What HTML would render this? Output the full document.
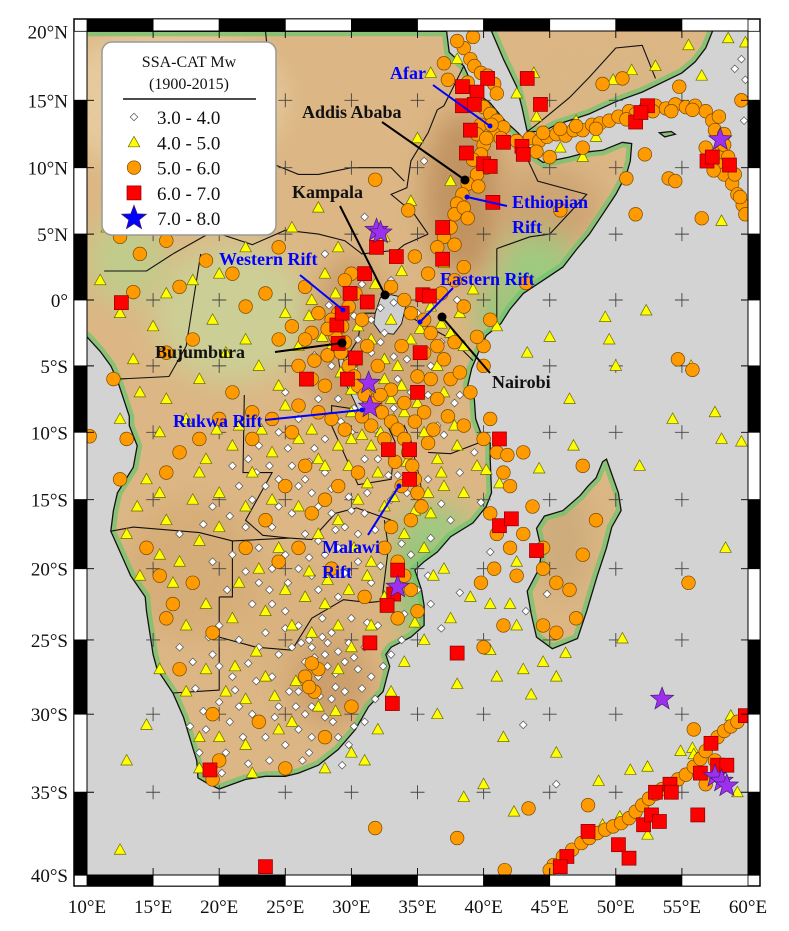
<!DOCTYPE html>
<html><head><meta charset="utf-8"><style>
html,body{margin:0;padding:0;background:#fff;}
svg{display:block;font-family:"Liberation Serif",serif;}
</style></head><body>
<svg id="map" width="789" height="931" viewBox="0 0 789 931" xmlns="http://www.w3.org/2000/svg">
<defs>
<clipPath id="mapclip"><rect x="87" y="31" width="661" height="844"/></clipPath>
<clipPath id="landclip"><path id="landclippath" d=""/></clipPath>
<filter id="blur" x="-50%" y="-50%" width="200%" height="200%"><feGaussianBlur stdDeviation="14"/></filter>
</defs>
<rect x="0" y="0" width="789" height="931" fill="#fff"/>
<g id="mapbody" clip-path="url(#mapclip)">
<rect x="87" y="31" width="661" height="844" fill="#d3d3d3"/>
<g id="landlayer"></g>
<g id="gridlayer"></g>
<g id="quakes"></g>
<g id="annot"></g>
</g>
<g id="frame"></g>
<g id="axislabels"></g>
<g id="legend">
<rect x="102" y="42" width="174" height="193" rx="10" fill="#fff" stroke="#999" stroke-width="1.5"/>
<text x="189" y="67" font-size="16" text-anchor="middle" fill="#111">SSA-CAT Mw</text>
<text x="189" y="89" font-size="16" text-anchor="middle" fill="#111">(1900-2015)</text>
<line x1="123" y1="99" x2="256" y2="99" stroke="#111" stroke-width="1.5"/>
<g id="legendrows"></g>
</g>
</svg>
<script>
// ---- data ----
var magClasses = ["3.0 - 4.0","4.0 - 5.0","5.0 - 6.0","6.0 - 7.0","7.0 - 8.0"];
var lonTicks = [10,15,20,25,30,35,40,45,50,55,60];
var latTicks = [20,15,10,5,0,-5,-10,-15,-20,-25,-30,-35,-40];
var lonTickLabels = ["10°E","15°E","20°E","25°E","30°E","35°E","40°E","45°E","50°E","55°E","60°E"];
var latTickLabels = ["20°N","15°N","10°N","5°N","0°","5°S","10°S","15°S","20°S","25°S","30°S","35°S","40°S"];

// Mw 7-8 (lon,lat pairs)
var quakesM7 = [31.9,5.3, 32.2,5.1, 31.3,-6.3, 31.4,-8.1, 33.5,-21.3, 53.5,-29.0, 57.9,12.1, 57.5,-34.0, 58.0,-34.3, 58.4,-34.6];
// Mw 6-7
var quakesM6 = [38.4,16.0, 40.3,16.6, 43.3,16.6, 39.5,15.6, 38.4,14.6, 39.3,14.7, 44.3,14.7, 39.0,12.8, 38.7,11.1, 40.0,10.3, 40.5,10.1, 41.5,11.9, 42.9,11.6, 43.0,11.0, 40.7,7.4,
 36.9,5.5, 36.9,3.1, 31.9,4.0, 33.4,3.3, 31.0,2.0, 29.9,0.5, 31.2,-0.15, 28.9,-1.9, 29.3,-1.0, 29.7,-6.0, 26.6,-6.0, 35.0,-7.0, 35.2,-4.0, 35.4,0.4, 35.9,0.3, 29.0,-3.3, 30.3,-4.4, 12.6,-0.2,
 32.8,-11.3, 34.4,-11.3, 34.4,-13.5, 33.5,-20.1, 33.2,-21.8, 32.7,-22.6, 31.4,-25.2, 33.1,-29.3, 38.0,-25.9, 19.3,-33.6, 41.2,-10.5, 41.2,-16.9, 42.1,-16.4, 44.0,-18.7,
 52.4,14.6, 51.5,13.4, 51.9,14.1, 56.9,10.5, 57.3,10.8, 58.6,10.2, 23.5,-39.5,
 46.3,-38.9, 45.8,-39.5, 47.9,-37.4, 50.2,-38.2, 51.0,-39.0, 52.1,-37.0, 52.7,-36.4, 53.3,-36.8, 53.0,-35.0, 54.1,-34.5, 54.2,-35.0, 56.2,-36.4, 56.4,-33.8, 57.2,-31.9, 57.7,-33.3, 58.4,-33.3, 59.8,-30.1];
// Mw 5-6
var quakesM5 = [38.5,18.8, 39,18, 39.3,17.5, 39.8,17, 40.3,16.8, 40.8,16.2, 41,15.5, 39.5,15.2, 40,14.5, 40.5,14, 41,13.5, 41.5,13, 40.8,12.5, 41.3,12.2, 39.8,13.2, 39.5,12.5, 40,11.7, 39.8,11, 40.2,10, 39.5,9.5, 38.8,8.8, 38.4,8, 38,7.3, 37.8,6.5, 37.5,5.5, 37,4.8, 36.5,4, 38.5,7, 37.3,16.5, 37,17.7, 38,19.3, 39.2,19.6, 38.8,16.3,
 42.5,12, 43.5,12.2, 44.2,12, 44.8,12.3, 45.5,12.5, 46.2,12.4, 46.8,12.8, 47.5,12.8, 48.2,13.2, 48.8,13.3, 49.5,13.5, 50.2,13.8, 51,14.2, 51.5,14, 52.3,14.5, 53,14.6, 53.8,14.4, 54.5,14.7, 55.3,14.5, 56,14.6, 56.8,14.2, 57.3,13.5, 57.5,12.8, 56.8,11.5, 57.2,10.8, 57.7,10.3, 58.2,9.5, 58.8,8.8, 59.2,8, 59.6,7.2, 59.8,6.5, 47.5,11.5, 44,11.2, 45,10.8, 49,16.2, 52.2,11, 54,9.2, 54.5,9, 56.5,6.2, 59.5,15, 54.8,16, 50.5,16.6, 58.2,12.5, 58,11.2,
 44.5,12.6, 45.8,12.9, 47,13.1, 48.5,12.9, 50.8,13.6, 52.8,14.2, 54.2,14.2, 55.8,14.3, 57.8,13.8, 58.2,11.7, 57.4,9.8, 58.5,10.8, 59,9.5, 59.4,7.8, 40.6,13.2, 40.2,12.2, 39.2,10.6, 39.6,8.6, 38.8,6.2, 37.8,4.2,
 31.8,9.1, 34.3,6.8, 30,2, 29.5,1.5, 30.3,0.5, 29.8,-0.5, 29,-1, 28.5,-1.5, 29.3,-2, 28.8,-2.8, 29.5,-3.2, 29.2,-4, 29.8,-5, 30.2,-5.8, 30.5,-6.5, 31,-7.2, 31.8,-7.8, 32.3,-8.5, 33,-9.2, 33.5,-9.8, 34,-10.5, 34.3,-11.5, 34.6,-12.5, 34.8,-13.5, 35,-14.5, 35.3,-15.5, 34.5,-16.5, 33.8,-14, 32.5,-10.5, 31.5,-9.5, 27.5,-1, 27,-2.5, 26.5,-3, 25.5,-2, 24.5,-3, 26,-5, 27,-6, 28,-6.5, 27.5,-8.5, 28.5,-9, 26,-8, 25.5,-10, 24,-9, 22.5,-8.5, 21,-7, 20,-9, 18.5,-10.5, 17,-11.5, 16,-13, 33,1, 34,0, 34.5,-1, 35.5,-1.5, 36,-2.5, 36.5,-3.5, 35.5,-4, 37,-4.5, 36,-6, 37.5,-6, 38.2,-5.5, 36.5,-7.5, 35.5,-8.5, 37.3,-8.8, 38.5,-9.5, 39,-7, 40,-3.5, 39.5,-2.8, 40.5,-1.5, 40,-5, 36.8,0.5, 37.8,1.5, 38.5,2.5, 35.8,2, 34.8,3.3, 38.5,-0.5,
 28.2,-2.2, 30.8,-1.5, 31.2,-3.5, 32,-5, 33,-6.8, 34,-7.8, 34.8,-9.2, 35.8,-10.8, 33.3,-12.2, 32.2,-7.2, 30.8,-8.8, 29.5,-9.8, 28.2,-4.2, 27.2,-4.6, 33.8,-3.5, 35,-5.8, 36.2,-9.8, 37.8,-3.2,
 33,-17, 32.5,-18.5, 33.5,-19.5, 34,-20.5, 34.5,-21.5, 35,-23, 33.5,-23.5, 31,-22, 28.5,-20, 26,-18.5, 27,-16, 28,-15, 29,-14, 30.5,-13, 26.5,-12.5, 25,-14, 23.5,-16.5, 22,-18.5, 18,-21, 16.5,-22.5, 15.5,-20.5, 14.5,-18.5, 19.5,-24.5, 26.5,-27.5, 27.5,-27, 27,-26.6, 27.2,-28.5, 26.8,-28.2, 23,-30.5, 19.5,-30, 17,-27, 20,-33, 19.5,-34.2, 25,-33.5, 28,-31.5, 30,-29.5, 16,-23.5, 12.5,-13.5, 13,-10.5, 10.2,-10.3, 22.5,-10.5, 24.5,-19.5,
 12,-6, 16,-4, 18,-3, 17,1, 19,3, 21,2, 22,-0.5, 23.5,0.5, 18.5,6.5, 21.5,5.5, 24.5,4, 26.5,1, 14,3.5, 12.5,4.8, 15,6, 16,4.5, 13.5,0.6,
 41,-11.5, 41.5,-13, 42,-14, 40.5,-16, 41,-17.5, 42,-18.5, 43,-17.5, 44.5,-18.5, 40.8,-20, 39.8,-21, 44.5,-20, 45.5,-21, 46.5,-21.5, 47.5,-19, 48.5,-16.5, 47,-23.5, 44.5,-24, 45.5,-24.5, 41.5,-24, 40,-25.5, 55.5,-21, 42.5,-20.5, 43.7,-15.5, 47.5,-12.5, 43,-11.5, 40,-10.5, 40.5,-9,
 45.8,6.8, 50.8,9.2, 51.5,6.5, 55.8,-5.3, 54.7,-4.5, 43.2,1.3, 41.8,-11.7,
 45.3,-39.4, 46,-38.9, 46.7,-38.5, 47.4,-38.1, 48,-37.8, 48.6,-37.5, 49.2,-37.3, 49.8,-37.1, 50.4,-36.9, 51,-36.6, 51.5,-36.2, 52,-35.8, 52.5,-35.4, 53,-35.1, 53.5,-34.8, 54.1,-34.5, 54.7,-34.2, 55.3,-33.9, 55.9,-33.4, 56.4,-32.9, 56.8,-32.4, 57.2,-31.9, 57.7,-31.5, 58.2,-31.1, 58.7,-30.8, 59.2,-30.5, 45.0,-39.7, 41.6,-39.7, 47.9,-35.8, 43.4,-36.0, 55.9,-31.0, 57.5,-33.0, 56.8,-34.5, 31.8,-37.2, 38.0,-37.8];
// Mw 4-5
var quakesM4 = [14,18, 20,13, 27.5,7, 35,12.2, 36,17, 38,18, 43.8,17, 47,13.5, 47.5,10.8, 49.8,16.5, 58.5,19.5, 55.5,19, 51.2,17.2, 44,13.8, 42.5,15.5, 37.5,9, 32.5,4.8, 34.5,7.5, 33,-1.5, 41,-2, 43.3,-4, 45,-2.8, 49.2,-1.3, 49.5,-3, 46.5,-7.5, 55.7,-5, 57.5,-8.5, 59.5,-10.7, 58,-10.5, 54.3,-9, 51.8,-12.5, 50,-5, 52.3,-0.8, 58,6, 59.8,19.2, 56.5,16.8, 53,17.5, 45.8,11.5, 48.5,12.3,
 11,1.5, 12.5,-1, 13.5,-4.5, 15,-2, 16,0.5, 18,1.5, 19.5,-1.5, 20.5,-4, 22,-3, 23,-5, 24.5,-6.5, 25,-1, 26,-3.5, 27,0, 28,2, 29,4, 25.5,5.5, 22,4, 20,2, 17.5,6, 13,8.5, 11.5,5.5, 18.5,-6, 16,-7.5, 14,-7, 12.5,-9, 15.5,-10, 17.5,-9, 19,-12, 21,-11, 22.5,-13, 24,-11.5, 26,-10.5, 27.5,-12, 29,-11, 30,-8.5, 31.5,-11, 32,-13, 30.5,-15, 29,-16.5, 27.5,-17.5, 26,-15.5, 24,-15, 22,-15.5, 20,-14.5, 18,-15, 16,-16.5, 14.5,-13.5, 13,-17.5, 14,-20.5, 15.5,-19, 17,-19.5, 18.5,-18, 20,-17, 21.5,-21, 23,-20, 24.5,-18.5, 25,-21.5, 26.5,-22, 28,-22.5, 29,-24, 27,-24.5, 25.5,-24, 23.5,-23, 21,-23.5, 19,-22.5, 17.5,-24, 15.5,-27, 17.5,-28.5, 19,-27, 20.5,-28.5, 22,-29, 23.5,-27.5, 24.5,-31, 22,-32, 20,-31.5, 18.5,-31.5, 18.5,-33.5, 22.5,-33.8, 25.5,-30.5, 27.5,-29.5, 29,-27, 30,-25.5, 31.5,-24, 32.5,-22, 31.5,-19.5, 32.5,-15.5, 34,-17.5, 35.5,-18.5, 36,-16, 37,-14, 36.5,-12, 38,-11, 39.5,-12.5, 38.5,-14.5, 37,-20, 35.5,-25, 34,-26.5, 33,-28.5, 32,-31, 30,-32.5, 28,-33.5, 31,-33, 14.5,-30.7, 13,-33, 12.5,-38.5,
 28.5,-3.5, 30.5,-2, 31.5,-3, 32.5,-4.5, 33.5,-5, 34.5,-3, 36,-0.5, 37.5,-2.5, 38.5,-3.5, 33,-7.5, 34,-8.5, 35.5,-10, 30,-10.5, 28,-12.5, 25,-8, 21.5,-9.5, 18.5,-13, 15.5,-14.5,
 29.2,-5.5, 30,-6.8, 31.2,-6.8, 32.5,-6, 33.8,-6.5, 35,-7.8, 36.5,-5, 37,-7, 37.8,-9.5, 33.2,-9, 32.2,-10, 30.8,-10.2, 29.8,-12.5, 31.2,-13.8, 33.2,-14.8, 34.8,-15.8, 35.8,-14.5, 36.8,-13, 34.2,-12.2, 27.8,-2.8, 26.8,-1.2, 28.8,0.5, 31.8,1.2, 33.8,2.2, 35.2,-2.2, 36.8,-1.8, 38.2,-1, 39.2,0.8, 37,2.8, 30.2,-18.5, 31.2,-20.5, 29.8,-21.5, 28.2,-20.8, 26.8,-20.2, 25.8,-27.8, 28.8,-29.8, 24.2,-28.8, 22.8,-25.8, 21.2,-26.8, 16.5,-21, 13.8,-15.5, 19.8,-9.8, 23.2,-9.8, 27,-9.8, 36.2,-20.5, 34.8,-23.8, 41.2,-13.8, 40.2,-12.8,
 38.5,-35.3, 40,-34.5, 36.5,-30, 38,-28, 41,-27.5, 43,-27, 44.5,-26.5, 45.5,-27.5, 46.2,-25.9, 50.5,-24.9, 40.5,-25.7, 43.6,-28.7, 48.7,-34.3, 51.1,-33.6, 52.4,-33.4, 54.9,-32.4, 55.8,-32.2, 55.9,-32.6, 58.7,-30.1, 59.2,-35.0, 42.3,-36.2, 50.3,-36.5, 52.4,-37.6, 49.0,-37.0, 42,-22.5, 42.5,-24, 42.5,-19.5, 44.2,-12.7, 46.8,-11, 39,-22, 40.5,-22.5, 37.5,-23.5, 45.5,-32.5, 41.5,-31.5, 58.3,-18.5];
// Mw 3-4
var quakesM3 = [21.5,-14, 22.5,-15, 23.5,-14, 24.5,-13.5, 25.5,-12.5, 26.5,-13.5, 27,-14.5, 28,-13, 28.5,-16, 29.5,-17, 30.5,-17.5, 31,-16, 29,-18.5, 28,-19, 27,-20.5, 26,-20, 25,-19, 24,-20, 23,-21, 24,-22.5, 25,-23, 26,-24, 27,-25.5, 28,-26, 28.5,-24.5, 29.5,-26.5, 30.5,-27, 27.5,-27.5, 26.5,-26.5, 25.5,-25.5, 24.5,-26, 26,-28.5, 27,-29.5, 28.5,-29, 29.5,-28.5, 30,-29.5, 31,-30.5, 29,-31.5, 27,-31.5, 25,-32, 26,-31, 23.5,-31.5, 22.5,-30, 21.5,-29.5, 20,-29.2, 19,-31, 18.5,-32.5, 20.5,-32.5, 21.5,-25, 20,-24, 19.5,-19.5, 21,-19, 22,-17, 23,-18.5, 24,-17, 25.5,-16, 23,-11, 24.5,-10, 26,-9, 27.5,-7.5, 29,-7.5, 28,-10.5, 30,-10, 31,-12, 32,-12, 33,-15, 34.5,-19, 35,-21.5, 36,-22.5, 32,-24, 31,-25.5, 29,-22, 30,-23.5, 33,-26, 26.5,-17.5, 27.5,-18, 22.5,-22.5, 17,-17.5, 17,-25.5, 18,-26.5, 19.5,-26, 23,-25.5, 24,-27.5, 26,-8, 25,-7, 28.5,-5, 30.5,-3, 31.5,-4, 31.5,-1.5, 32.5,-2.5, 35,-1, 36,-5, 34.5,-7, 33.5,-6, 38,0, 31,6.3, 35.5,10.5, 33,1.5, 28,3.5, 43.0,-30.7, 45.5,-34.5, 59.5,18, 59.8,16.5, 59,17.3, 59.7,13.5,
 28.8,-27.3, 28.2,-25.2, 27.8,-24.8, 26.8,-25, 29.8,-25.2, 30.8,-28.3, 31.5,-27.5, 28.6,-30.5, 26.5,-30, 25.3,-28.5, 22.8,-27.8, 21,-27.5, 20.6,-21.5, 22,-20.2, 26.8,-19.2, 29.5,-20.3, 31.5,-21, 30.5,-19.5, 31.8,-17.2, 30,-15.8, 28.5,-14.2, 26,-14, 24.5,-15.5, 22.8,-13, 21,-12.5, 19.5,-15.5, 27.2,-11.2, 29.2,-9.2, 33,-11.8, 33.5,-13.2, 35.8,-13.5, 36.8,-15.3, 37.5,-16.5, 36,-17.8, 35.8,-20.5, 34,-23.2, 33.8,-25, 32.4,-26.8, 30.2,-30.8, 28,-30.2, 24.5,-29.5, 20,-26.8, 18.2,-28.3, 17.8,-30.8, 20.8,-30.5, 21.8,-31.5, 23.8,-33, 26.3,-33, 29.3,-33.3, 33.2,-4.3, 36.8,-3.2, 37.8,-7.8, 37,-10.2, 39.3,-11.5, 38.2,-13, 39.8,-15.2, 30.2,-8.2, 31.8,-9.8, 30.2,-5.2, 27.2,-4.2, 28.3,-0.4, 30.8,1.2, 32.2,-0.6, 36.5,-9.5, 44.8,-21.8, 43.2,-23, 40.5,-18.8, 38.2,-21.7, 36.8,-24.2,
 27.2,-26.2, 28.2,-26.8, 29,-25.8, 26.2,-25.2, 25,-24.2, 27.8,-23.5, 28.8,-28.2, 27.6,-28.8, 25.8,-29.5, 24.2,-30.2, 21.2,-28.4, 22.2,-26.6, 23.5,-24.5, 25.2,-21, 23.8,-21.5, 27.5,-21.5, 28.8,-17.2, 29.8,-14.8, 27.5,-15.5, 26.8,-12.2, 25.2,-11.2, 23.8,-12.5, 22.2,-12, 20.8,-16.2, 18.8,-16.8, 31.2,-14.5, 32.8,-13.2, 34.2,-14.5, 33.8,-18.2, 32.2,-19.8, 31.2,-23.8, 30.2,-26.2, 31.8,-29, 29.8,-32, 26.8,-32.5, 22.2,-33.2, 20.2,-33.8, 18.8,-29.8, 19.2,-24.8, 33.2,-8.2, 32.2,-3.2, 34.2,-4.5, 35.8,-7.2, 38.2,-7.2, 30.2,-1.2, 33.2,-0.2];

// ---- projection (Mercator) ----
function X(lon){ return 87 + (lon-10)*13.22; }
function Y(lat){ return 300 - 754*Math.log(Math.tan(Math.PI/4 + lat*Math.PI/360)); }

var NS = "http://www.w3.org/2000/svg";
function mk(tag, attrs, parent){ var e=document.createElementNS(NS,tag); for(var k in attrs) e.setAttribute(k, attrs[k]); if(parent) parent.appendChild(e); return e; }
function pathFrom(arr){ var d=""; for(var i=0;i<arr.length;i+=2){ d += (i?"L":"M")+X(arr[i]).toFixed(1)+","+Y(arr[i+1]).toFixed(1); } return d+"Z"; }
function lineFrom(arr){ var d=""; for(var i=0;i<arr.length;i+=2){ d += (i?"L":"M")+X(arr[i]).toFixed(1)+","+Y(arr[i+1]).toFixed(1); } return d; }

// ---- land geometry ----
var africaCoast = [10,20, 37.2,20, 37.4,18.5, 38.5,17.5, 39.3,15.8, 39.8,15.3, 40.5,14.8, 41.6,13.5, 42.6,12.6, 43.3,11.9, 43,11.5, 43.6,11, 44.5,10.4, 45.5,10.6, 46.5,10.8, 48,11.2, 49,11.3, 50.5,11.9, 51.2,11.8, 51.1,10.5, 50.8,9.5, 50,8, 49,6.5, 48,5, 47,3.8, 46,2.5, 44.5,1.5, 43,0.5, 42,-0.7, 41.3,-1.8, 40.2,-2.7, 39.6,-4, 39.1,-5.2, 38.8,-6.5, 39.3,-7.5, 39.4,-9, 39.8,-10.1, 40.5,-10.8, 40.5,-12, 40.6,-14.5, 40.2,-15.5, 39.2,-16.7, 37.5,-17.7, 36.5,-18.8, 35.5,-19.5, 34.8,-20.1, 35.3,-21.5, 35.5,-22.6, 35.5,-24, 34.5,-24.8, 33,-25.5, 32.6,-26, 32.9,-26.8, 32.4,-28.5, 31.3,-29.5, 30.3,-31, 29,-32.3, 27.5,-33.3, 26,-33.8, 25,-34, 23.5,-34, 22,-34.2, 20,-34.8, 19,-34.4, 18.4,-34.1, 18.3,-33, 18,-32.2, 17.3,-30.2, 16.5,-28.6, 15.3,-27, 15,-26, 14.5,-23, 14.4,-22, 13.3,-20.5, 12.5,-18.8, 11.8,-17.3, 12,-15.8, 12.3,-14.5, 13.5,-12.6, 13.8,-11, 13.2,-9.5, 13.2,-8.8, 12.8,-7.6, 12.3,-6.1, 11.8,-5, 11,-3.9, 10,-2.8, 8,-2.8, 8,20];
var arabiaCoast = [40.6,21, 40.6,20, 41.5,18, 42.5,16, 42.9,14.5, 43.3,12.7, 44.5,12.7, 45.5,13.2, 48,14, 50,14.9, 52,15.6, 55,17, 56,17.8, 56.8,18.8, 57.4,20.2, 57.6,21, 40.6,21];
var madagascarCoast = [49.3,-12, 50.2,-14.5, 50.4,-15.8, 49.7,-17, 49.3,-18.5, 48.6,-20.5, 47.8,-23, 47.1,-24.9, 45.2,-25.6, 44,-24.8, 43.6,-23.2, 43.3,-21.6, 44.2,-20, 44.4,-18.7, 44,-17.1, 44.6,-16.2, 46,-15.8, 47.3,-14.7, 47.9,-14, 48.5,-13.4, 49,-12.2];
var socotraCoast = [53.3,12.6, 54.2,12.7, 54.5,12.5, 53.7,12.3];
var lakeVictoria = [31.8,-1, 32.2,0.2, 33,0.4, 33.9,0.2, 34.1,-0.5, 33.8,-1.8, 33.2,-2.6, 32.2,-2.5, 31.7,-1.8];
var lakeTanganyika = [29.2,-3.3, 29.5,-5, 30.3,-6.6, 30.8,-7.5, 31.1,-8.6, 30.7,-8.7, 30.1,-7.4, 29.5,-6.2, 29.1,-5, 28.9,-3.5];
var lakeMalawi = [34,-9.5, 34.5,-10.6, 34.8,-12, 35.2,-13.5, 35.3,-14.4, 34.9,-14.2, 34.4,-12.8, 34.1,-11.3, 33.9,-9.8];
var borders = [
 [23.5,20, 24,15.5, 22.5,14, 22.3,12.6, 23.5,10.5, 26,9.5, 27.5,9.5, 30,10, 33,10, 34,9],
 [36.5,14.3, 35.8,12.6, 34.5,10.5, 34.2,8.5, 33,8, 34.7,6.6, 35.8,5],
 [41,3.9, 43.5,4.8, 45,5, 47.8,8, 44.1,9, 43,11.3],
 [41,3.9, 41,-1.6],
 [35.8,5, 34,4.2, 33.5,3.8, 30.8,3.5, 29.5,4.5, 27.5,5, 25,5.3, 22.5,4.2, 19.5,5.2, 16.5,3.5],
 [16.5,3.5, 14.5,2.2, 11.3,2.2],
 [18.6,3.5, 17.5,-3.5, 16.2,-5.8, 12.3,-6],
 [30,-1.3, 31,-1, 33.9,-1, 37.6,-3, 39.2,-4.6],
 [29.6,-4.4, 30.5,-3, 30.8,-1.1],
 [21.9,-7.2, 21.8,-13, 24,-13, 22,-16.5, 23.3,-17.6, 25.3,-17.8],
 [11.8,-17.3, 13.5,-17, 18.5,-17.4, 21,-18, 25.3,-17.8],
 [20,-22, 20,-24.8, 20,-28.4, 16.5,-28.6],
 [21,-18, 21,-22, 20,-22],
 [20,-24.8, 22.8,-25.5, 25.5,-25.7, 27,-23.5, 29.4,-22.2, 31.3,-22.4],
 [25.3,-17.8, 27,-17.9, 28.8,-16, 30.4,-15.6, 33,-16.5],
 [32.5,-9, 33.3,-10.7, 33,-13.5, 30.5,-13.9, 28.5,-9.5, 28.5,-8, 30.5,-8.3],
 [35.8,-11.5, 37.5,-11.6, 40.4,-10.5],
 [31.3,-22.4, 32.3,-22.3, 32.8,-18.5, 32.5,-16.5],
 [43.3,12.7, 44,13.2, 45,14, 46.5,15.2, 48,16.7, 50,18.8, 52,19, 53,16.6],
 [38.5,17.5, 37,14.6, 36.5,14.3]
];

var landlayer = document.getElementById("landlayer");
var africaD = pathFrom(africaCoast), arabiaD = pathFrom(arabiaCoast), madD = pathFrom(madagascarCoast), socD = pathFrom(socotraCoast);
var allLand = africaD + arabiaD + madD + socD;
document.getElementById("landclippath").setAttribute("d", allLand);

var landFill = mk("path", {d: allLand, fill: "#dcb785"}, landlayer);



var shade = mk("g", {"clip-path": "url(#landclip)"}, landlayer);
var tints = [
 [16,15,9,5,"#e8cfa3"], [21,-1,6,5,"#c8d49a"], [13,3,3,3,"#b9d18d"], [38.5,8,3,6,"#b98a58"],
 [45,7,4,3,"#c9a070"], [44,2,3,3,"#8fcf7f"], [41,-1,1.5,2,"#7fcc7a"], [35,-21,1.8,4,"#7bcb78"],
 [36.5,-17,2.5,1.5,"#8ccf80"], [46,-18,2,4,"#c9a878"], [27,-24,6,5,"#d9b27e"], [18,-20,5,5,"#d4aa74"],
 [49,16.5,5,2,"#d8b685"], [30,-3,3,6,"#c59965"], [34.5,-5,3,4,"#cfa673"], [28.5,-28,3,3,"#c89a68"]
];
for (var t=0;t<tints.length;t++){
  var tb=tints[t];
  var cx=X(tb[0]), cy=Y(tb[1]);
  mk("ellipse", {cx:cx, cy:cy, rx:tb[2]*13.22, ry:tb[3]*14, fill:tb[4], opacity:0.8, filter:"url(#blur)"}, shade);
}
var fringe = mk("path", {d: allLand, fill:"none", stroke:"#6fc46f", "stroke-width":10, opacity:0.75}, shade);



var coast = mk("path", {d: allLand, fill:"none", stroke:"#111", "stroke-width":1.3}, landlayer);



for (var b=0;b<borders.length;b++){
  var bl = mk("path", {d: lineFrom(borders[b]), fill:"none", stroke:"#111", "stroke-width":1.1}, landlayer);
  
  
}
var lakes=[lakeVictoria, lakeTanganyika, lakeMalawi];
for (var l=0;l<lakes.length;l++){
  var lk = mk("path", {d: pathFrom(lakes[l]), fill:"#cfcfcf", stroke:"#111", "stroke-width":0.9}, landlayer);
  
  
}

// ---- grid crosses ----
var grid = document.getElementById("gridlayer");
for (var i=1;i<lonTicks.length-1;i++){
  for (var j=1;j<latTicks.length-1;j++){
    var gx=X(lonTicks[i]), gy=Y(latTicks[j]);
    var cr = mk("path", {d:"M"+(gx-7)+","+gy+"H"+(gx+7)+"M"+gx+","+(gy-7)+"V"+(gy+7), stroke:"#444", "stroke-width":0.9, fill:"none"}, grid);
    
    
  }
}

// ---- markers ----
var qg = document.getElementById("quakes");
function diamond(x,y,p){ return mk("path",{d:"M"+x+","+(y-3.8)+"L"+(x+3.8)+","+y+"L"+x+","+(y+3.8)+"L"+(x-3.8)+","+y+"Z", fill:"#fff", stroke:"#555", "stroke-width":0.7},p); }
function tri(x,y,p){ return mk("path",{d:"M"+x+","+(y-6)+"L"+(x+5.8)+","+(y+4.5)+"L"+(x-5.8)+","+(y+4.5)+"Z", fill:"#ffff00", stroke:"#6b6b00", "stroke-width":0.7},p); }
function circ(x,y,p){ return mk("circle",{cx:x, cy:y, r:6.8, fill:"#ff9b00", stroke:"#7a4a00", "stroke-width":0.7},p); }
function sq(x,y,p){ return mk("rect",{x:x-7, y:y-7, width:14, height:14, fill:"#ff0000", stroke:"#8a0000", "stroke-width":0.7},p); }
function star(x,y,p,col,R){ R=R||12; var r=R*0.42, d=""; for(var k=0;k<10;k++){ var a=-Math.PI/2+k*Math.PI/5, rr=(k%2?r:R); d+=(k?"L":"M")+(x+rr*Math.cos(a)).toFixed(1)+","+(y+rr*Math.sin(a)).toFixed(1);} return mk("path",{d:d+"Z", fill:col||"#9b30ef", stroke:"#4a1a70", "stroke-width":0.7},p); }

var series = [[quakesM3, diamond, "quake-mw3"], [quakesM4, tri, "quake-mw4"], [quakesM5, circ, "quake-mw5"], [quakesM6, sq, "quake-mw6"], [quakesM7, star, "quake-mw7"]];
for (var s=0;s<series.length;s++){
  var arr=series[s][0], fn=series[s][1];
  var g = mk("g", {}, qg);
  
  
  for (var q=0;q<arr.length;q+=2){
    var el = fn(X(arr[q]), Y(arr[q+1]), g);
    
    
  }
}

// ---- annotations ----
var an = document.getElementById("annot");
var annots = [
 [["Afar"], 390, 79, "#0000ff", [433,85], [490,126], "blue"],
 [["Addis Ababa"], 302, 118, "#111", [382,122], [465,180], "black"],
 [["Ethiopian","Rift"], 512, 208, "#0000ff", [507,206], [467,197], "blue"],
 [["Kampala"], 292, 198, "#111", [340,206], [385,295], "black"],
 [["Western Rift"], 219, 265, "#0000ff", [300,275], [343,310], "blue"],
 [["Eastern Rift"], 440, 285, "#0000ff", [453,288], [420,322], "blue"],
 [["Bujumbura"], 155, 358, "#111", [275,352], [342,343], "black"],
 [["Nairobi"], 492, 388, "#111", [490,373], [442,317], "black"],
 [["Rukwa Rift"], 173, 427, "#0000ff", [265,420], [362,410], "blue"],
 [["Malawi","Rift"], 322, 553, "#0000ff", [368,535], [399,486], "blue"]
];
for (var a=0;a<annots.length;a++){
  var A=annots[a];
  var ln = mk("line",{x1:A[4][0], y1:A[4][1], x2:A[5][0], y2:A[5][1], stroke: A[6]=="blue"?"#0000ff":"#000", "stroke-width":2}, an);
  
  
  var dt = mk("circle",{cx:A[5][0], cy:A[5][1], r:A[6]=="blue"?2.5:4.5, fill:A[6]=="blue"?"#0000ff":"#000"}, an);
  
  
  for (var li=0; li<A[0].length; li++){
    var tx = mk("text",{x:A[1], y:A[2]+li*25, fill:A[3], "font-size":18, "font-weight":"bold"}, an);
    tx.textContent = A[0][li];
    
    
  }
}

// ---- frame ----
var fr = document.getElementById("frame");
mk("rect",{x:74, y:19, width:686, height:867, fill:"none", stroke:"#000", "stroke-width":1.5}, fr);
for (var i=0;i<lonTicks.length-1;i++){
  var x0=X(lonTicks[i]), x1=X(lonTicks[i+1]), c=(i%2==0)?"#000":"#fff";
  var t1=mk("rect",{x:x0, y:19, width:x1-x0, height:12, fill:c, stroke:"#000", "stroke-width":0.8}, fr);
  
  
  var t2=mk("rect",{x:x0, y:875, width:x1-x0, height:11, fill:c, stroke:"#000", "stroke-width":0.8}, fr);
  
  
}
for (var j=0;j<latTicks.length-1;j++){
  var y0=Y(latTicks[j]), y1=Y(latTicks[j+1]), c2=(j%2==0)?"#fff":"#000";
  var s1=mk("rect",{x:74, y:y0, width:13, height:y1-y0, fill:c2, stroke:"#000", "stroke-width":0.8}, fr);
  
  
  var s2=mk("rect",{x:748, y:y0, width:12, height:y1-y0, fill:c2, stroke:"#000", "stroke-width":0.8}, fr);
  
  
}
mk("rect",{x:87, y:31, width:661, height:844, fill:"none", stroke:"#000", "stroke-width":1}, fr);
for (var i=1;i<lonTicks.length-1;i++){
  var tx0=X(lonTicks[i]);
  mk("path",{d:"M"+tx0+",31v7M"+tx0+",875v-7", stroke:"#000","stroke-width":0.9}, fr);
}
for (var j=1;j<latTicks.length-1;j++){
  var ty0=Y(latTicks[j]);
  mk("path",{d:"M87,"+ty0+"h7M748,"+ty0+"h-7", stroke:"#000","stroke-width":0.9}, fr);
}

// ---- axis labels ----
var ax = document.getElementById("axislabels");
for (var i=0;i<lonTicks.length;i++){
  var lt = mk("text",{x:X(lonTicks[i]), y:913, "font-size":19, "text-anchor":"middle", fill:"#111"}, ax);
  lt.textContent = lonTickLabels[i];
  
  
}
for (var j=0;j<latTicks.length;j++){
  var yt = mk("text",{x:68, y:Y(latTicks[j])+7, "font-size":19, "text-anchor":"end", fill:"#111"}, ax);
  yt.textContent = latTickLabels[j];
  
  
}

// ---- legend rows ----
var lr = document.getElementById("legendrows");
var legendFns = [diamond, tri, circ, sq];
for (var m=0;m<magClasses.length;m++){
  var ry = 117 + m*25.3;
  var sym;
  if (m<4) sym = legendFns[m](134, ry, lr); else sym = star(134, ry, lr, "#0000ff", 13);
  
  
  var lt2 = mk("text",{x:157, y:ry+7, "font-size":19, fill:"#111"}, lr);
  lt2.textContent = magClasses[m];
  
  
}
</script>
</body></html>
